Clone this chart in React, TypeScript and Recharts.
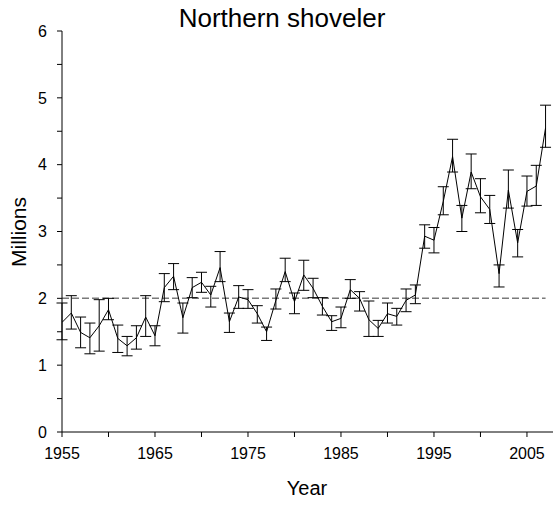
import { ComposedChart, Line, XAxis, YAxis, ErrorBar, ReferenceLine, Label } from "recharts";

// Northern shoveler breeding population estimates (millions) with error bar bounds
const years = [
    1955, 1956, 1957, 1958, 1959, 1960, 1961, 1962, 1963, 1964,
    1965, 1966, 1967, 1968, 1969, 1970, 1971, 1972, 1973, 1974,
    1975, 1976, 1977, 1978, 1979, 1980, 1981, 1982, 1983, 1984,
    1985, 1986, 1987, 1988, 1989, 1990, 1991, 1992, 1993, 1994,
    1995, 1996, 1997, 1998, 1999, 2000, 2001, 2002, 2003, 2004,
    2005, 2006, 2007,
];
const estimate = [
    1.64, 1.78, 1.49, 1.41, 1.59, 1.83, 1.40, 1.29, 1.41, 1.72,
    1.44, 2.16, 2.33, 1.71, 2.16, 2.24, 2.05, 2.46, 1.65, 2.02,
    1.98, 1.77, 1.50, 1.97, 2.40, 1.95, 2.35, 2.15, 1.88, 1.65,
    1.70, 2.13, 2.00, 1.68, 1.55, 1.77, 1.73, 1.97, 2.05, 2.93,
    2.87, 3.45, 4.12, 3.20, 3.89, 3.52, 3.33, 2.37, 3.62, 2.83,
    3.60, 3.68, 4.55,
];
const lower = [
    1.38, 1.54, 1.26, 1.17, 1.21, 1.68, 1.19, 1.14, 1.24, 1.43,
    1.29, 1.95, 2.13, 1.48, 2.01, 2.09, 1.87, 2.25, 1.49, 1.85,
    1.85, 1.63, 1.37, 1.84, 2.25, 1.77, 2.12, 2.01, 1.75, 1.52,
    1.56, 2.00, 1.81, 1.43, 1.43, 1.63, 1.60, 1.80, 1.92, 2.75,
    2.68, 3.25, 3.89, 3.00, 3.64, 3.28, 3.12, 2.17, 3.35, 2.62,
    3.38, 3.39, 4.26,
];
const upper = [
    1.93, 2.04, 1.72, 1.63, 1.98, 2.00, 1.60, 1.43, 1.59, 2.04,
    1.59, 2.37, 2.52, 1.93, 2.31, 2.39, 2.18, 2.70, 1.78, 2.19,
    2.13, 1.89, 1.57, 2.14, 2.60, 2.08, 2.57, 2.30, 2.01, 1.74,
    1.87, 2.28, 2.10, 1.96, 1.67, 1.93, 1.85, 2.14, 2.20, 3.10,
    3.06, 3.67, 4.38, 3.39, 4.16, 3.79, 3.54, 2.50, 3.92, 3.03,
    3.83, 3.99, 4.89,
];
const goal = 2;
const xTicks = [1955, 1960, 1965, 1970, 1975, 1980, 1985, 1990, 1995, 2000, 2005];
const yTicks = [0, 0.5, 1, 1.5, 2, 2.5, 3, 3.5, 4, 4.5, 5, 5.5, 6];

const data = years.map((year, i) => ({
    year,
    value: estimate[i],
    err: [estimate[i] - lower[i], upper[i] - estimate[i]],
}));

const font = "Arial, 'Liberation Sans', sans-serif";

export default function App() {
    return (
        <div style={{ position: "absolute", left: 0, top: 0, width: 553, height: 506, fontFamily: font, background: "#fff" }}>
            <div
                style={{
                    position: "absolute",
                    left: 0,
                    top: 5,
                    width: 564,
                    textAlign: "center",
                    fontSize: 26,
                    lineHeight: "26px",
                    color: "#000",
                }}
            >
                Northern shoveler
            </div>
            <ComposedChart width={553} height={506} data={data} margin={{ top: 31, right: 0, left: 0, bottom: 0 }}>
                <XAxis
                    dataKey="year"
                    type="number"
                    domain={[1955, 2007.8]}
                    ticks={xTicks}
                    tickFormatter={(v: number) => ((v - 1955) % 10 === 0 ? String(v) : "")}
                    height={74}
                    stroke="#000"
                    tickSize={5}
                    tickMargin={11}
                    tick={{ fill: "#000", fontSize: 16, fontFamily: font }}
                    allowDataOverflow
                >
                    <Label
                        content={() => (
                            <text x={307} y={495} textAnchor="middle" fontSize={20} fontFamily={font} fill="#000">
                                Year
                            </text>
                        )}
                    />
                </XAxis>
                <YAxis
                    type="number"
                    domain={[0, 6]}
                    ticks={yTicks}
                    tickFormatter={(v: number) => (Number.isInteger(v) ? String(v) : "")}
                    width={62}
                    stroke="#000"
                    tickSize={5}
                    tickMargin={10}
                    tick={{ fill: "#000", fontSize: 16, fontFamily: font }}
                >
                    <Label
                        content={() => (
                            <text
                                x={18}
                                y={232}
                                transform="rotate(-90 18 232)"
                                textAnchor="middle"
                                dominantBaseline="central"
                                fontSize={21}
                                fontFamily={font}
                                fill="#000"
                            >
                                Millions
                            </text>
                        )}
                    />
                </YAxis>
                <ReferenceLine
                    segment={[
                        { x: years[0], y: goal },
                        { x: years[years.length - 1], y: goal },
                    ]}
                    stroke="#7a7a7a"
                    strokeWidth={1.5}
                    strokeDasharray="7 3"
                />
                <Line
                    type="linear"
                    dataKey="value"
                    stroke="#000"
                    strokeWidth={1}
                    dot={false}
                    isAnimationActive={false}
                >
                    <ErrorBar dataKey="err" direction="y" width={5.5} stroke="#000" strokeWidth={1} isAnimationActive={false} />
                </Line>
            </ComposedChart>
        </div>
    );
}
